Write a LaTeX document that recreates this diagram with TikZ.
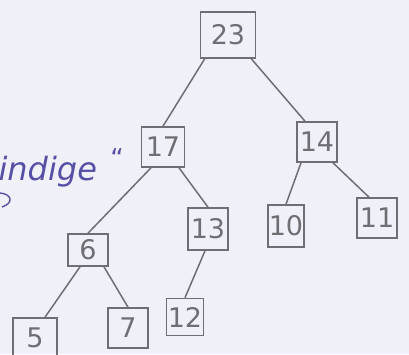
\documentclass[tikz,border=0pt]{standalone}
\usepackage{fontspec}
\setmainfont{DejaVu Sans}
\definecolor{paper}{RGB}{240,240,248}
\definecolor{pencil}{RGB}{110,110,115}
\definecolor{ink}{RGB}{85,80,165}
\begin{document}
\begin{tikzpicture}[x=1pt,y=-1pt,
  key/.style={draw=pencil,line width=1.6pt,text=pencil,minimum width=40pt,minimum height=40pt,inner sep=0pt,font=\fontsize{27}{27}\selectfont},
  edge/.style={draw=pencil,line width=1.5pt}]
\fill[paper] (0,0) rectangle (409,354);
\useasboundingbox (0,0) rectangle (409,354);
\node[key,minimum width=55pt,minimum height=46pt] (n23) at (228,35) {23};
\node[key,minimum width=43pt] (n17) at (163,147) {17};
\node[key] (n14) at (317,142) {14};
\node[key,minimum height=32pt] (n6) at (88,250) {6};
\node[key,minimum height=42pt] (n13) at (208,229) {13};
\node[key,minimum width=36pt,minimum height=42pt] (n10) at (286,226) {10};
\node[key] (n11) at (377,218) {11};
\node[key,minimum width=44pt] (n5) at (35,338) {5};
\node[key] (n7) at (128,328) {7};
\node[key,minimum width=37pt,minimum height=37pt] (n12) at (185,317) {12};
\draw[edge] (n23.south west) ++(5,0) -- (n17.north) ;
\draw[edge] (n23.south east) ++(-5,0) -- ([xshift=-12pt]n14.north);
\draw[edge] ([xshift=-12pt]n17.south) -- (n6.north);
\draw[edge] ([xshift=16pt]n17.south) -- (n13.north);
\draw[edge] ([xshift=-16pt]n14.south) -- (n10.north);
\draw[edge] ([xshift=16pt]n14.south) -- ([xshift=-8pt]n11.north);
\draw[edge] ([xshift=-8pt]n6.south) -- ([xshift=10pt]n5.north);
\draw[edge] ([xshift=16pt]n6.south) -- (n7.north);
\draw[edge] ([xshift=-3pt]n13.south) -- (n12.north);
\node[text=ink,anchor=west,font=\itshape\fontsize{32}{32}\selectfont] (word) at (-5,172) {indige};
\node[text=ink,font=\fontsize{26}{26}\selectfont] (quote) at (117,158) {“};
\draw[ink,line width=1.4pt] (0,193) .. controls (12,194) and (14,203) .. (2,207);
\end{tikzpicture}
\end{document}
